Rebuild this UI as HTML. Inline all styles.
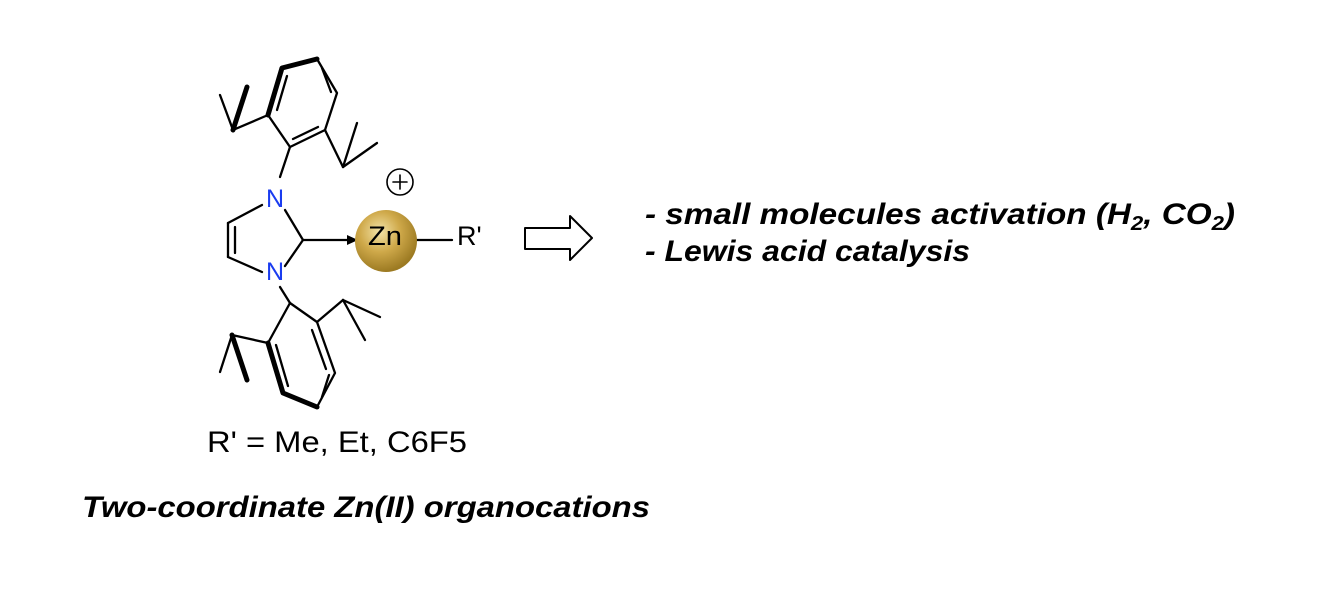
<!DOCTYPE html>
<html><head><meta charset="utf-8"><style>
html,body{margin:0;padding:0;background:#fff;width:1340px;height:608px;overflow:hidden}
svg{display:block}
text{font-family:"Liberation Sans",Arial,sans-serif}
</style></head><body>
<svg width="1340" height="608" viewBox="0 0 1340 608">
<defs>
<radialGradient id="g" cx="40%" cy="35%" r="65%">
<stop offset="0" stop-color="#f3e3a8"/><stop offset="0.5" stop-color="#cfa94a"/><stop offset="1" stop-color="#9c7a22"/>
</radialGradient>
</defs>
<g stroke="#000" stroke-width="2.3" fill="none" stroke-linecap="round" stroke-linejoin="round">
<polyline points="268,115 282,68 317,59" stroke-width="5"/>
<polyline points="317,59 337,93 325,130 290,147 268,115"/>
<line x1="287" y1="76" x2="277" y2="110"/>
<line x1="322" y1="68" x2="331" y2="92"/>
<line x1="293" y1="139" x2="318" y2="127"/>
<line x1="290" y1="147" x2="280" y2="177"/>
<line x1="268" y1="115" x2="233" y2="130"/>
<line x1="233" y1="130" x2="220" y2="95"/>
<line x1="233" y1="130" x2="247" y2="87" stroke-width="5"/>
<line x1="325" y1="130" x2="343" y2="167"/>
<line x1="343" y1="167" x2="357" y2="123"/>
<line x1="343" y1="167" x2="377" y2="143"/>
<line x1="262" y1="205" x2="228" y2="223"/>
<line x1="228" y1="223" x2="228" y2="257"/>
<line x1="235" y1="227" x2="235" y2="253"/>
<line x1="228" y1="257" x2="262" y2="272"/>
<line x1="285" y1="210" x2="303" y2="240"/>
<line x1="303" y1="240" x2="285" y2="266"/>
<line x1="303" y1="240" x2="352" y2="240"/>
<line x1="407" y1="240" x2="452" y2="240"/>
<line x1="280" y1="287" x2="290" y2="303"/>
<polyline points="268,343 283,393 317,407" stroke-width="5"/>
<polyline points="317,407 335,373 317,322 290,303 268,343"/>
<line x1="276" y1="345" x2="288" y2="386"/>
<line x1="322" y1="397" x2="329" y2="375"/>
<line x1="312" y1="330" x2="326" y2="369"/>
<line x1="317" y1="322" x2="343" y2="300"/>
<line x1="343" y1="300" x2="380" y2="317"/>
<line x1="343" y1="300" x2="365" y2="340"/>
<line x1="268" y1="343" x2="232" y2="335"/>
<line x1="232" y1="335" x2="220" y2="372"/>
<line x1="232" y1="335" x2="247" y2="380" stroke-width="5"/>
<circle cx="400" cy="182" r="13" stroke-width="1.6"/>
<line x1="393" y1="182" x2="407" y2="182" stroke-width="1.6"/>
<line x1="400" y1="175" x2="400" y2="189" stroke-width="1.6"/>
<path d="M525,228 H570 V216 L592,238 L570,260 V249 H525 Z" stroke-width="2"/>
</g>
<polygon points="358,240 347,235 347,245" fill="#000"/>
<circle cx="386" cy="241" r="31" fill="url(#g)"/>
<text x="275" y="207" font-size="25" fill="#1a3cf0" text-anchor="middle">N</text>
<text x="275" y="280" font-size="25" fill="#1a3cf0" text-anchor="middle">N</text>
<text x="385" y="245" font-size="27" text-anchor="middle" textLength="34" lengthAdjust="spacingAndGlyphs">Zn</text>
<text x="457" y="245" font-size="27">R'</text>
<text x="207" y="452" font-size="30" textLength="260" lengthAdjust="spacingAndGlyphs">R' = Me, Et, C6F5</text>
<text x="82" y="517" font-size="30" font-weight="bold" font-style="italic" textLength="568" lengthAdjust="spacingAndGlyphs">Two-coordinate Zn(II) organocations</text>
<text x="645" y="224" font-size="30" font-weight="bold" font-style="italic" textLength="590" lengthAdjust="spacingAndGlyphs">- small molecules activation (H<tspan font-size="20" dy="6">2</tspan><tspan dy="-6">, CO</tspan><tspan font-size="20" dy="6">2</tspan><tspan dy="-6">)</tspan></text>
<text x="645" y="261" font-size="30" font-weight="bold" font-style="italic" textLength="325" lengthAdjust="spacingAndGlyphs">- Lewis acid catalysis</text>
</svg>
</body></html>
